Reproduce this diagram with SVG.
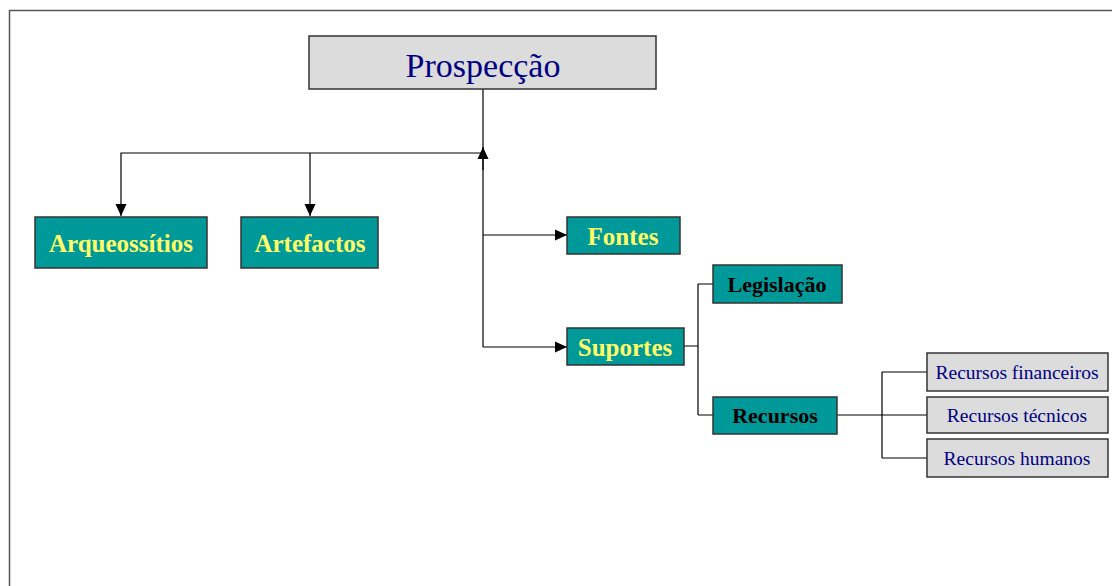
<svg xmlns="http://www.w3.org/2000/svg" width="1112" height="586" viewBox="0 0 1112 586">
<style>
.grey{fill:#dcdcdc;stroke:#333;stroke-width:1.5}
.teal{fill:#009999;stroke:#333;stroke-width:1.5}
.t{font-family:"Liberation Serif","Times New Roman",serif;text-anchor:middle}
.y{fill:#ffff66;font-weight:bold;font-size:25px}
.k{fill:#000;font-weight:bold;font-size:22px}
.n{fill:#000080;font-size:19.5px}
.c{fill:none;stroke:#000;stroke-width:1.2}
</style>
<defs>
<marker id="ar" viewBox="0 0 12 12" refX="12" refY="6" markerWidth="12" markerHeight="12" markerUnits="userSpaceOnUse" orient="auto">
<path d="M0,0.5 L12,6 L0,11.5 z" fill="#000"/>
</marker>
</defs>
<rect width="1112" height="586" fill="#fff"/>
<path d="M9.5,586 V10.5 H1112" fill="none" stroke="#555" stroke-width="1.5"/>
<g id="connectors">
<path class="c" d="M483,89 V347"/>
<path class="c" d="M483,170 V147" marker-end="url(#ar)"/>
<path class="c" d="M483,153 H121 V216" marker-end="url(#ar)"/>
<path class="c" d="M310,153 V216" marker-end="url(#ar)"/>
<path class="c" d="M483,235 H567" marker-end="url(#ar)"/>
<path class="c" d="M483,347 H567" marker-end="url(#ar)"/>
<path class="c" d="M684,346 H698 M698,284 V415 M698,284 H713 M698,415 H713"/>
<path class="c" d="M837,415 H927 M882,372 V458 M882,372 H927 M882,458 H927"/>
</g>
<g id="prospeccao">
<rect class="grey" x="309" y="36" width="347" height="53"/>
<text class="t" x="483" y="77" font-size="34" fill="#000080">Prospecção</text>
</g>
<g id="arqueossitios">
<rect class="teal" x="35" y="217" width="172" height="51"/>
<text class="t y" x="121" y="252">Arqueossítios</text>
</g>
<g id="artefactos">
<rect class="teal" x="241" y="217" width="137" height="51"/>
<text class="t y" x="310" y="252">Artefactos</text>
</g>
<g id="fontes">
<rect class="teal" x="567" y="217" width="113" height="37"/>
<text class="t y" x="623" y="245">Fontes</text>
</g>
<g id="suportes">
<rect class="teal" x="567" y="328" width="117" height="37"/>
<text class="t y" x="625" y="356">Suportes</text>
</g>
<g id="legislacao">
<rect class="teal" x="713" y="265" width="129" height="38"/>
<text class="t k" x="777" y="292">Legislação</text>
</g>
<g id="recursos">
<rect class="teal" x="713" y="397" width="124" height="37"/>
<text class="t k" x="775" y="423">Recursos</text>
</g>
<g id="rec-fin">
<rect class="grey" x="927" y="353" width="181" height="38"/>
<text class="t n" x="1017" y="379">Recursos financeiros</text>
</g>
<g id="rec-tec">
<rect class="grey" x="927" y="397" width="181" height="36"/>
<text class="t n" x="1017" y="422">Recursos técnicos</text>
</g>
<g id="rec-hum">
<rect class="grey" x="927" y="439" width="181" height="38"/>
<text class="t n" x="1017" y="465">Recursos humanos</text>
</g>
</svg>
